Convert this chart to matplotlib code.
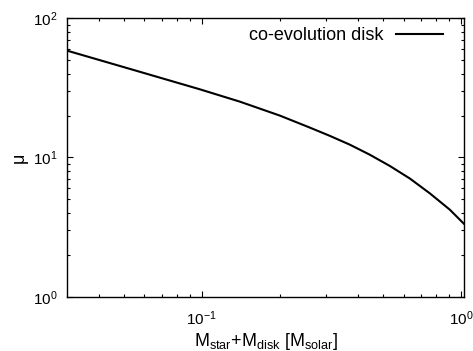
import numpy as np
import matplotlib
matplotlib.use("Agg")
import matplotlib.pyplot as plt
from matplotlib.ticker import LogLocator, NullFormatter

plt.rcParams['font.family'] = ['Liberation Sans', 'DejaVu Sans']
plt.rcParams['mathtext.fontset'] = 'custom'
plt.rcParams['mathtext.rm'] = 'Liberation Sans'
plt.rcParams['mathtext.it'] = 'Liberation Sans:italic'

# total mass (star + disk) in solar masses
mass = [0.0303, 0.0528, 0.0982, 0.140, 0.1998, 0.2607, 0.3115, 0.372, 0.444,
        0.530, 0.633, 0.756, 0.903, 1.022]
# mu values
mu = [58.5, 43.3, 30.9, 25.2, 20.0, 16.4, 14.3, 12.36, 10.47,
      8.70, 7.07, 5.53, 4.22, 3.35]

fig = plt.figure(figsize=(4.73, 3.51), dpi=100)
ax = fig.add_axes([0.1423, 0.1547, 0.9816 - 0.1423, 0.9479 - 0.1547])

ax.plot(mass, mu, color='black', linewidth=1.5, label='co-evolution disk')

ax.set_xscale('log')
ax.set_yscale('log')
ax.set_xlim(0.0303, 1.027)
ax.set_ylim(1, 100)

ax.xaxis.set_major_locator(LogLocator(base=10))
ax.yaxis.set_major_locator(LogLocator(base=10))
ax.xaxis.set_minor_locator(LogLocator(base=10, subs=np.arange(2, 10)))
ax.yaxis.set_minor_locator(LogLocator(base=10, subs=np.arange(2, 10)))
ax.xaxis.set_minor_formatter(NullFormatter())
ax.yaxis.set_minor_formatter(NullFormatter())

ax.tick_params(which='both', direction='in', top=True, right=True, labelsize=11, width=0.8)
ax.tick_params(which='major', length=4.5, pad=7)
ax.tick_params(axis='x', which='major', pad=9)
ax.tick_params(which='minor', length=2.5)
for s in ax.spines.values():
    s.set_linewidth(1.0)

ax.set_xlabel(r'M$_{\mathrm{star}}$+M$_{\mathrm{disk}}$ [M$_{\mathrm{solar}}$]', fontsize=13, labelpad=2)
ax.set_ylabel('μ', fontsize=13, labelpad=4)

ax.legend(loc='upper right', bbox_to_anchor=(0.97, 1.0), frameon=False, markerfirst=False,
          fontsize=13, handlelength=2.6, borderaxespad=0.1, handletextpad=0.72)

fig.savefig('out.png', dpi=100)
